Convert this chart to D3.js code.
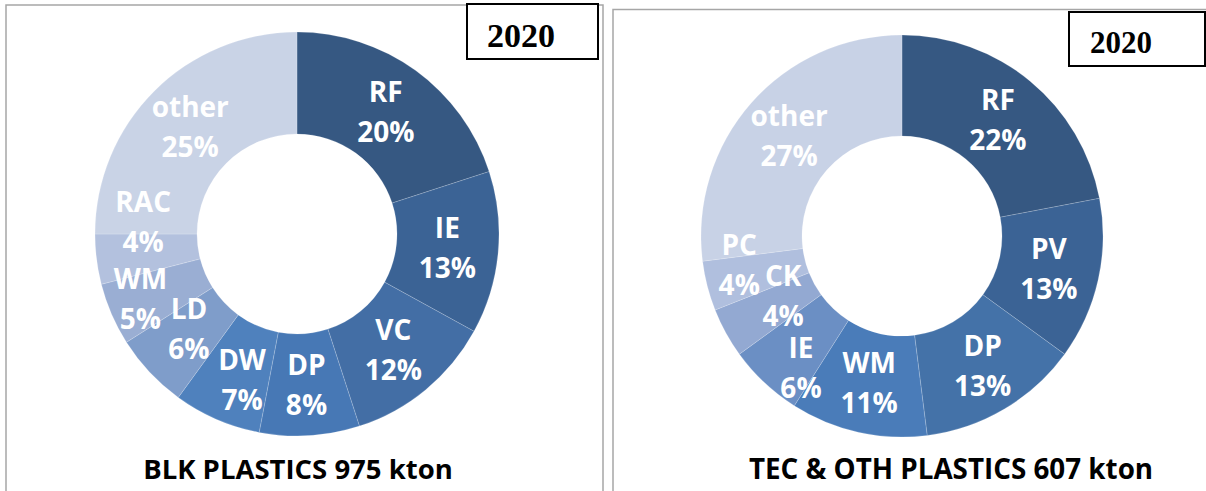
<!DOCTYPE html>
<html>
<head>
<meta charset="utf-8">
<script src="https://cdn.jsdelivr.net/npm/d3@7"></script>
<style>
  body { margin: 0; background: #fff; }
  svg { display: block; }
</style>
</head>
<body>
<div id="chart"></div>
<script>
// two donut charts, plastic shares by appliance category
const blkLabels = ["RF", "IE", "VC", "DP", "DW", "LD", "WM", "RAC", "other"];
const blkValues = [20, 13, 12, 8, 7, 6, 5, 4, 25];
const blkColors = ["#365882", "#3b6395", "#436ea5", "#4778b5", "#4f81bd", "#7f9dca", "#9aaed3", "#b3c1de", "#c9d3e6"];

const tecLabels = ["RF", "PV", "DP", "WM", "IE", "CK", "PC", "other"];
const tecValues = [22, 13, 13, 11, 6, 4, 4, 27];
const tecColors = ["#365882", "#3b6395", "#4472a8", "#4a7cb9", "#6b8fc4", "#93a9d2", "#b0bfde", "#c8d2e6"];

const yearLabel = "2020";
const blkTitle = "BLK PLASTICS 975 kton";
const tecTitle = "TEC & OTH PLASTICS 607 kton";

// label nudges where excel moved labels off the centroid
const blkNudge = {DW: [5, 7], LD: [2, -8], WM: [-18, 5], RAC: [-4, -31]};
const tecNudge = {IE: [2, 22], CK: [13, -13], PC: [-17, -8], DP: [4, 0]};

const width = 1206, height = 491;

var svg = d3.select("#chart")
    .append("svg")
    .attr("width", width)
    .attr("height", height);

// panel frames
svg.append("rect")
    .attr("x", 6).attr("y", 5).attr("width", 597).attr("height", 500)
    .attr("fill", "none").attr("stroke", "#a6a6a6").attr("stroke-width", 1.5);
svg.append("rect")
    .attr("x", 613).attr("y", 9.5).attr("width", 620).attr("height", 500)
    .attr("fill", "none").attr("stroke", "#a6a6a6").attr("stroke-width", 1.5);

function donut(opts) {
    var g = svg.append("g").attr("transform", "translate(" + opts.cx + "," + opts.cy + ")");
    var data = opts.values.map((v, i) => ({label: opts.labels[i], value: v, color: opts.colors[i]}));

    var pie = d3.pie().sort(null).value(d => d.value);
    var arc = d3.arc().innerRadius(opts.r0).outerRadius(opts.r1);
    var mid = d3.arc().innerRadius((opts.r0 + opts.r1) / 2).outerRadius((opts.r0 + opts.r1) / 2);

    var arcs = pie(data);

    g.selectAll("path")
        .data(arcs)
        .enter()
        .append("path")
            .attr("d", arc)
            .attr("fill", d => d.data.color)
            .attr("stroke", "rgba(255,255,255,0.3)")
            .attr("stroke-width", 0.6);

    var labels = g.selectAll("text.lbl")
        .data(arcs)
        .enter()
        .append("text")
            .attr("class", "lbl")
            .attr("text-anchor", "middle")
            .attr("fill", "#fff")
            .style("font-family", "'Open Sans', sans-serif")
            .style("font-weight", "bold")
            .style("font-size", "28px")
            .attr("transform", function(d) {
                var c = mid.centroid(d);
                var n = opts.nudge[d.data.label] || [0, 0];
                return "translate(" + (c[0] + n[0]) + "," + (c[1] + n[1]) + ")";
            });

    labels.append("tspan").attr("x", 0).attr("y", -10).text(d => d.data.label);
    labels.append("tspan").attr("x", 0).attr("y", 30).text(d => d.data.value + "%");

    // year box
    svg.append("rect")
        .attr("x", opts.box[0]).attr("y", opts.box[1])
        .attr("width", opts.box[2]).attr("height", opts.box[3])
        .attr("fill", "#fff").attr("stroke", "#000").attr("stroke-width", 2);
    svg.append("text")
        .attr("x", opts.box[0] + opts.yearDx).attr("y", opts.box[1] + opts.yearDy)
        .style("font-family", "'Liberation Serif', 'Times New Roman', serif")
        .style("font-weight", "bold")
        .style("font-size", opts.yearSize + "px")
        .text(yearLabel);

    svg.append("text")
        .attr("x", opts.titleX).attr("y", 479)
        .attr("text-anchor", "middle")
        .style("font-family", "'Open Sans', sans-serif")
        .style("font-weight", "bold")
        .style("font-size", opts.titleSize + "px")
        .attr("fill", "#000")
        .text(opts.title);
}

donut({
    labels: blkLabels, values: blkValues, colors: blkColors, nudge: blkNudge,
    cx: 297, cy: 234, r0: 100, r1: 202,
    box: [467, 4, 131, 55], yearDx: 20, yearDy: 43, yearSize: 34,
    title: blkTitle, titleX: 298, titleSize: 27.5
});

donut({
    labels: tecLabels, values: tecValues, colors: tecColors, nudge: tecNudge,
    cx: 902, cy: 236, r0: 100, r1: 201,
    box: [1069, 12, 136, 54], yearDx: 21, yearDy: 41, yearSize: 31,
    title: tecTitle, titleX: 951, titleSize: 27.8
});
</script>
</body>
</html>
